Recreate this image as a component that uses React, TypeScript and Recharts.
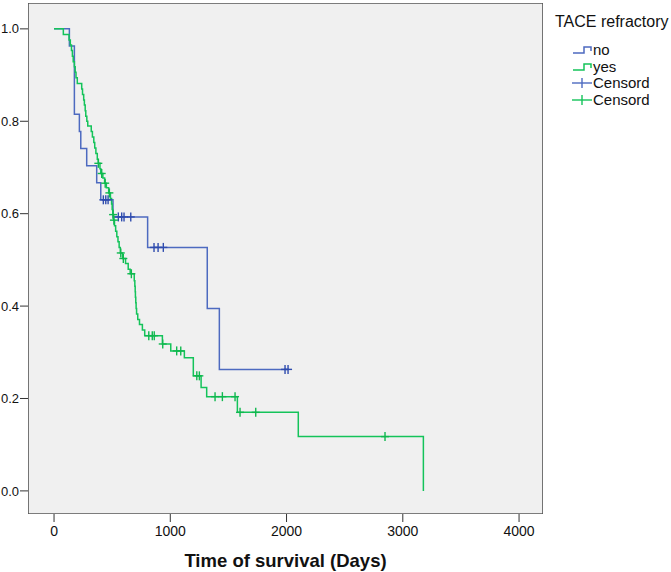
import React from "react";
import { ComposedChart, Line, Scatter, XAxis, YAxis, ReferenceArea } from "recharts";

// Kaplan-Meier steps: [day, cumulative survival]
const NO_TIMES = [0, 132, 175, 218, 230, 281, 367, 402, 507, 805, 1318, 1422, 2013];
const NO_SURV = [1.0, 0.963, 0.815, 0.778, 0.741, 0.704, 0.667, 0.63, 0.593, 0.527, 0.395, 0.263, 0.263];
const NO_CENS_TIMES = [424, 445, 465, 553, 582, 602, 660, 860, 895, 940, 1987, 2013];
const NO_CENS_SURV = [0.63, 0.63, 0.63, 0.593, 0.593, 0.593, 0.593, 0.527, 0.527, 0.527, 0.263, 0.263];

const YES_TIMES = [
  0, 80, 129, 140, 150, 158, 165, 175, 182, 189, 200, 238, 245, 255, 261, 268, 273, 282, 290, 320,
  330, 342, 350, 360, 372, 381, 395, 402, 420, 435, 450, 470, 485, 495, 500, 505, 512, 520, 530,
  540, 550, 560, 570, 590, 615, 638, 655, 690, 695, 698, 700, 703, 706, 710, 720, 735, 760, 780,
  932, 1004, 1121, 1198, 1265, 1313, 1577, 2101, 3177,
];
const YES_SURV = [
  1.0, 0.988, 0.976, 0.965, 0.953, 0.941, 0.929, 0.918, 0.906, 0.894, 0.882, 0.87, 0.858, 0.846,
  0.835, 0.823, 0.811, 0.8, 0.79, 0.778, 0.766, 0.754, 0.742, 0.73, 0.718, 0.709, 0.697, 0.687,
  0.677, 0.666, 0.656, 0.645, 0.633, 0.621, 0.609, 0.598, 0.586, 0.574, 0.562, 0.55, 0.539, 0.527,
  0.515, 0.503, 0.492, 0.48, 0.47, 0.455, 0.443, 0.431, 0.419, 0.407, 0.395, 0.383, 0.371, 0.36,
  0.348, 0.336, 0.318, 0.303, 0.288, 0.249, 0.224, 0.204, 0.17, 0.1175, 0.0,
];
const YES_CENS_TIMES = [
  381, 410, 440, 476, 508, 515, 574, 596, 665, 815, 845, 862, 935, 1055, 1090, 1228, 1250, 1385,
  1448, 1557, 1600, 1735, 2847,
];
const YES_CENS_SURV = [
  0.709, 0.687, 0.666, 0.645, 0.598, 0.586, 0.515, 0.503, 0.47, 0.336, 0.336, 0.336, 0.318, 0.303,
  0.303, 0.249, 0.249, 0.204, 0.204, 0.204, 0.17, 0.17, 0.1175,
];

const X_TICKS = [0, 1000, 2000, 3000, 4000];
const Y_TICKS = [0, 0.2, 0.4, 0.6, 0.8, 1.0];

const BLUE = "#4d6ac0";
const BLUE_DARK = "#2f4cae";
const GREEN = "#14c35a";
const GREEN_DARK = "#0fb84e";
const FONT = "'Liberation Sans', Arial, sans-serif";

const zip = (t: number[], s: number[]) => t.map((v, i) => ({ t: v, s: s[i] }));

const noLine = zip(NO_TIMES, NO_SURV);
const yesLine = zip(YES_TIMES, YES_SURV);
const noCens = zip(NO_CENS_TIMES, NO_CENS_SURV);
const yesCens = zip(YES_CENS_TIMES, YES_CENS_SURV);

function cross(color: string) {
  return (props: any) => {
    const { cx, cy } = props;
    return (
      <g stroke={color} strokeWidth={1.4}>
        <line x1={cx - 4} x2={cx + 4} y1={cy} y2={cy} />
        <line x1={cx} x2={cx} y1={cy - 4.5} y2={cy + 4.5} />
      </g>
    );
  };
}

function LegendBox() {
  const stepIcon = (y: number, color: string) => (
    <path d={`M573,${y + 3} H584 V${y - 3} H591 V${y + 1}`} fill="none" stroke={color} strokeWidth={1.5} />
  );
  const crossIcon = (y: number, color: string) => (
    <g stroke={color} strokeWidth={1.4}>
      <line x1={572} x2={592} y1={y} y2={y} />
      <line x1={582} x2={582} y1={y - 5} y2={y + 5} />
    </g>
  );
  const rows = [
    { y: 50, label: "no", icon: stepIcon(50, BLUE) },
    { y: 67, label: "yes", icon: stepIcon(67, GREEN) },
    { y: 83, label: "Censord", icon: crossIcon(83, BLUE) },
    { y: 100, label: "Censord", icon: crossIcon(100, GREEN) },
  ];
  return (
    <svg width={671} height={572} style={{ position: "absolute", left: 0, top: 0, pointerEvents: "none" }}>
      <text x={555} y={27} fontSize={16} fontFamily={FONT} fill="#111">
        TACE refractory
      </text>
      {rows.map((r, i) => (
        <g key={i}>
          {r.icon}
          <text x={593} y={r.y + 5} fontSize={15} fontFamily={FONT} fill="#111">
            {r.label}
          </text>
        </g>
      ))}
    </svg>
  );
}

export default function App() {
  return (
    <div style={{ position: "absolute", left: 0, top: 0, width: 671, height: 572, background: "#fff" }}>
      <ComposedChart width={671} height={572} margin={{ top: 3, right: 128, bottom: 0, left: 0 }}>
        <XAxis
          type="number"
          dataKey="t"
          domain={[-224, 4206]}
          allowDataOverflow
          ticks={X_TICKS}
          tickSize={8}
          tickMargin={4}
          axisLine={false}
          tickLine={{ stroke: "#333" }}
          height={58}
          tick={{ fontSize: 14, fill: "#111", fontFamily: FONT }}
          label={{
            value: "Time of survival (Days)",
            position: "insideBottom",
            offset: 5,
            style: { fontSize: 18.5, fontWeight: "bold", fill: "#111", fontFamily: FONT },
          }}
        />
        <YAxis
          type="number"
          dataKey="s"
          domain={[-0.05, 1.056]}
          allowDataOverflow
          ticks={Y_TICKS}
          tickFormatter={(v: number) => v.toFixed(1)}
          tickSize={8}
          tickMargin={1}
          axisLine={false}
          tickLine={{ stroke: "#333" }}
          width={28}
          tick={{ fontSize: 13, fill: "#111", fontFamily: FONT }}
        />
        <ReferenceArea
          x1={-224}
          x2={4206}
          y1={-0.05}
          y2={1.056}
          fill="#f0f0f0"
          fillOpacity={1}
          stroke="#555"
          strokeWidth={1.6}
          ifOverflow="hidden"
        />
        <Line
          data={noLine}
          dataKey="s"
          type="stepAfter"
          stroke={BLUE}
          strokeWidth={1.5}
          dot={false}
          isAnimationActive={false}
        />
        <Line
          data={yesLine}
          dataKey="s"
          type="stepAfter"
          stroke={GREEN}
          strokeWidth={1.5}
          dot={false}
          isAnimationActive={false}
        />
        <Scatter data={noCens} dataKey="s" shape={cross(BLUE_DARK)} isAnimationActive={false} />
        <Scatter data={yesCens} dataKey="s" shape={cross(GREEN_DARK)} isAnimationActive={false} />
      </ComposedChart>
      <LegendBox />
    </div>
  );
}
